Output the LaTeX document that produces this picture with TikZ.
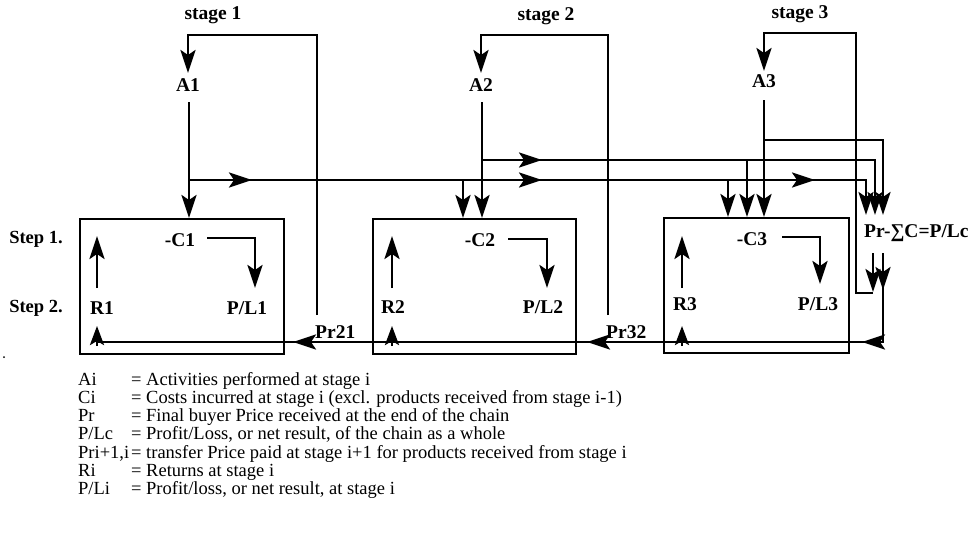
\documentclass[tikz,border=0pt]{standalone}
\usepackage{fontspec}
\setmainfont{Liberation Serif}
\usetikzlibrary{arrows.meta,decorations.markings}
\begin{document}
\begin{tikzpicture}[x=1pt,y=-1pt,
  >={Stealth[length=23pt,width=15pt,inset=5pt]},
  ln/.style={line width=2.6pt},
  boxst/.style={draw,line width=2.2pt,inner sep=0pt,anchor=north west},
  lbl/.style={font=\fontsize{19.5}{20}\selectfont\bfseries,inner sep=0pt},
  legtxt/.style={font=\fontsize{18.5}{19}\selectfont,inner sep=0pt,anchor=base west},
  marks/.style={postaction={decorate},decoration={markings,#1}},
  rtip/.style={-{Stealth[length=19pt,width=14pt,inset=4pt]}},
]
\fill[white] (0,0) rectangle (980,538);
\useasboundingbox (0,0) rectangle (980,538);

% labels
\node[lbl] (st1) at (213,15) {stage 1};
\node[lbl] (st2) at (546,16) {stage 2};
\node[lbl] (st3) at (800,14) {stage 3};
\node[lbl] (A1) at (188,85) {A1};
\node[lbl] (A2) at (481,85) {A2};
\node[lbl] (A3) at (764,81) {A3};
\node[lbl,font=\fontsize{18.5}{19}\selectfont\bfseries] (s1) at (36,239) {Step 1.};
\node[lbl,font=\fontsize{18.5}{19}\selectfont\bfseries] (s2) at (36,308) {Step 2.};
\node[lbl] (C1) at (180,240) {-C1};
\node[lbl] (C2) at (480,240) {-C2};
\node[lbl] (C3) at (752,239) {-C3};
\node[lbl] (PL1) at (247,308) {P/L1};
\node[lbl] (PL2) at (543,307) {P/L2};
\node[lbl] (PL3) at (818,304) {P/L3};
\node[lbl] (R1) at (102,308) {R1};
\node[lbl] (R2) at (393,307) {R2};
\node[lbl] (R3) at (685,304) {R3};
\node[lbl,anchor=west] (Pr21) at (315,332) {Pr21};
\node[lbl,anchor=west] (Pr32) at (606,332) {Pr32};
\node[lbl,anchor=west] (PLc) at (864,233) {Pr-∑C=P/Lc};

% boxes
\node[boxst,minimum width=204pt,minimum height=135pt] (B1) at (79,218) {};
\node[boxst,minimum width=203pt,minimum height=135pt] (B2) at (372,218) {};
\node[boxst,minimum width=185pt,minimum height=135pt] (B3) at (663,217) {};

% stage loops
\coordinate (L1b) at (317,315); \coordinate (L1t) at (317,35); \coordinate (L1l) at (188,35); \coordinate (L1e) at (188,73);
\draw[ln,->] (L1b) -- (L1t) -- (L1l) -- (L1e);
\coordinate (L2b) at (608,315); \coordinate (L2t) at (608,35); \coordinate (L2l) at (481,35); \coordinate (L2e) at (481,73);
\draw[ln,->] (L2b) -- (L2t) -- (L2l) -- (L2e);
\coordinate (L3s) at (873,293); \coordinate (L3b) at (856,293); \coordinate (L3t) at (856,33); \coordinate (L3l) at (764,33); \coordinate (L3e) at (764,71);
\draw[ln,->] (L3s) -- (L3b) -- (L3t) -- (L3l) -- (L3e);

% A1 flow
\coordinate (a1s) at (189,102); \coordinate (a1j) at (189,180);
\coordinate (a1e) at (866,180); \coordinate (a1d) at (866,215);
\draw[ln,->] (a1s) -- (a1j) -- (a1j |- B1.north);
\draw[ln,->,marks={mark=at position 63pt with {\arrow{>}},mark=at position 353pt with {\arrow{>}},mark=at position 626pt with {\arrow{>}}}] (a1j) -- (a1e) -- (a1d);
\coordinate (b12) at (463,180); \coordinate (b13) at (728,180);
\draw[ln,->] (b12) -- (b12 |- B2.north);
\draw[ln,->] (b13) -- (b13 |- B3.north);

% A2 flow
\coordinate (a2s) at (482,102); \coordinate (a2j) at (482,160);
\coordinate (a2e) at (875,160); \coordinate (a2d) at (875,215);
\draw[ln,->] (a2s) -- (a2j) -- (a2j |- B2.north);
\draw[ln,->,marks={mark=at position 60pt with {\arrow{>}}}] (a2j) -- (a2e) -- (a2d);
\coordinate (b23) at (747,160);
\draw[ln,->] (b23) -- (b23 |- B3.north);

% A3 flow
\coordinate (a3s) at (764,100); \coordinate (a3j) at (764,140);
\coordinate (a3e) at (883,140); \coordinate (a3d) at (883,215);
\draw[ln,->] (a3s) -- (a3j) -- (a3j |- B3.north);
\draw[ln,->] (a3j) -- (a3e) -- (a3d);

% from P/Lc down
\coordinate (pa) at (873,253); \coordinate (pb) at (873,292);
\draw[ln,->] (pa) -- (pb);
\coordinate (pc) at (883,253); \coordinate (pd) at (883,342); \coordinate (pe) at (97,342);
\draw[ln,marks={mark=at position 37pt with {\arrow{>}},mark=at position 110pt with {\arrow{>}},mark=at position 385pt with {\arrow{>}},mark=at position 679pt with {\arrow{>}}}] (pc) -- (pd) -- (pe);

% R arrows at bottom
\coordinate (r1b) at (97,346); \coordinate (r1t) at (97,326);
\coordinate (r2b) at (392,346); \coordinate (r2t) at (392,326);
\coordinate (r3b) at (682,346); \coordinate (r3t) at (682,326);
\draw[ln,rtip] (r1b) -- (r1t);
\draw[ln,rtip] (r2b) -- (r2t);
\draw[ln,rtip] (r3b) -- (r3t);

% R up arrows
\draw[ln,->] (97,288) coordinate (u1b) -- (97,236) coordinate (u1t);
\draw[ln,->] (392,288) coordinate (u2b) -- (392,236) coordinate (u2t);
\draw[ln,->] (682,288) coordinate (u3b) -- (682,236) coordinate (u3t);

% C -> P/L arrows
\coordinate (c1a) at (207,238); \coordinate (c1b) at (255,238); \coordinate (c1c) at (255,288);
\draw[ln,->] (c1a) -- (c1b) -- (c1c);
\coordinate (c2a) at (508,239); \coordinate (c2b) at (547,239); \coordinate (c2c) at (547,288);
\draw[ln,->] (c2a) -- (c2b) -- (c2c);
\coordinate (c3a) at (782,237); \coordinate (c3b) at (820,237); \coordinate (c3c) at (820,284);
\draw[ln,->] (c3a) -- (c3b) -- (c3c);

% stray dot
\fill (4,357) circle (1pt);

% legend
\foreach \k/\sym/\txt in {0/Ai/Activities performed at stage i,
  1/Ci/Costs incurred at stage i (excl. products received from stage i-1),
  2/Pr/Final buyer Price received at the end of the chain,
  3/P\slash Lc/{Profit/Loss, or net result, of the chain as a whole},
  4/{Pri+1,i}/transfer Price paid at stage i+1 for products received from stage i,
  5/Ri/Returns at stage i,
  6/P\slash Li/{Profit/loss, or net result, at stage i}}{
  \node[legtxt] (k\k) at (78,385+18.3*\k) {\sym};
  \node[legtxt] (e\k) at (131,385+18.3*\k) {=};
  \node[legtxt] (t\k) at (146,385+18.3*\k) {\txt};
}
\end{tikzpicture}
\end{document}
